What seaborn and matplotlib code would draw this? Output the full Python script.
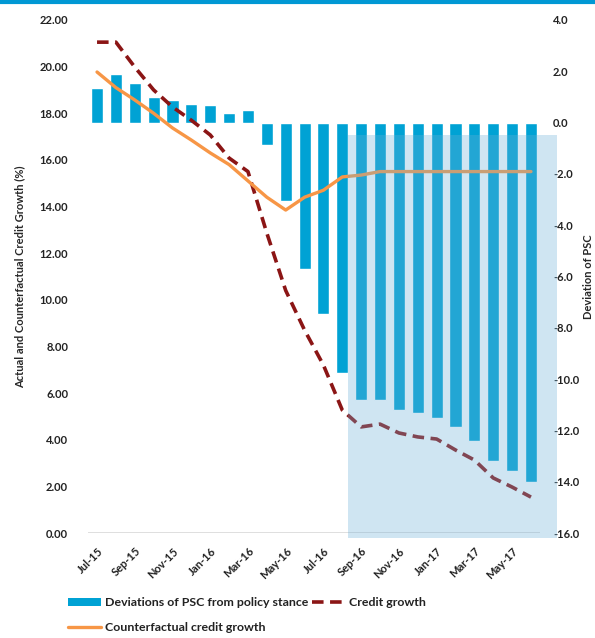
import matplotlib
matplotlib.use("Agg")
import matplotlib.pyplot as plt
import seaborn as sns
import pandas as pd
import numpy as np
from matplotlib.patches import Rectangle
from matplotlib.lines import Line2D
from matplotlib.patches import Patch

months = ["Jul-15", "Aug-15", "Sep-15", "Oct-15", "Nov-15", "Dec-15",
          "Jan-16", "Feb-16", "Mar-16", "Apr-16", "May-16", "Jun-16",
          "Jul-16", "Aug-16", "Sep-16", "Oct-16", "Nov-16", "Dec-16",
          "Jan-17", "Feb-17", "Mar-17", "Apr-17", "May-17", "Jun-17"]
deviation = [1.33, 1.9, 1.55, 1.0, 0.9, 0.74, 0.7, 0.38, 0.5, -0.86, -3.05, -5.7,
             -7.46, -9.76, -10.82, -10.82, -11.2, -11.33, -11.5, -11.88, -12.4,
             -13.2, -13.57, -14.0]
credit_growth = [21.05, 21.05, 19.98, 19.0, 18.27, 17.7, 17.07, 16.08, 15.5, 12.86,
                 10.4, 8.7, 7.2, 5.27, 4.55, 4.67, 4.29, 4.12, 4.03, 3.56, 3.13,
                 2.36, 1.97, 1.54]
counterfactual = [19.77, 19.1, 18.57, 18.0, 17.37, 16.85, 16.3, 15.8, 15.1, 14.4,
                  13.85, 14.4, 14.7, 15.27, 15.35, 15.5, 15.5, 15.5, 15.5, 15.5,
                  15.5, 15.5, 15.5, 15.5]
shade_from = "Aug-16"

sns.set_style("white")
plt.rcParams['font.family'] = ['Lato', 'DejaVu Sans']

df = pd.DataFrame({"month": months, "pos": np.arange(len(months)),
                   "dev": deviation, "credit": credit_growth, "cf": counterfactual})

BAR = "#00a2d4"
RED = "#8b1515"
ORANGE = "#f79646"

fig = plt.figure(figsize=(5.95, 6.38), dpi=100)
ax = fig.add_axes([87.6 / 595, 105 / 638, 452.8 / 595, 513 / 638])
sns.barplot(data=df, x="pos", y="dev", color=BAR, width=0.64, ax=ax,
            saturation=1)
ax.set_ylim(-16, 4)
ax.set_xlim(-0.5, 23.5)

axl = ax.twinx()
sns.lineplot(data=df, x="pos", y="credit", color=RED, lw=2.6, ax=axl)
axl.lines[-1].set_dashes([3.2, 1.8])
sns.lineplot(data=df, x="pos", y="cf", color=ORANGE, lw=2.4, ax=axl)
axl.set_ylim(0, 22)
axl.set_xlim(-0.5, 23.5)

# swap sides: bars' scale on right, lines' scale on left
ax.yaxis.tick_right()
ax.yaxis.set_label_position("right")
axl.yaxis.tick_left()
axl.yaxis.set_label_position("left")

tick_font = dict(fontsize=8, fontweight="bold", color="#222222")
ax.set_yticks(np.arange(-16, 4.1, 2))
ax.set_yticklabels([f"{v:.1f}" for v in np.arange(-16, 4.1, 2)], **tick_font)
axl.set_yticks(np.arange(0, 22.1, 2))
axl.set_yticklabels([f"{v:.2f}" for v in np.arange(0, 22.1, 2)], **tick_font)
ax.tick_params(axis="y", length=0, pad=9)
axl.tick_params(axis="y", length=0, pad=14)

ax.set_xticks(np.arange(0, 24, 2))
ax.set_xticklabels(months[::2], rotation=45, ha="right", rotation_mode="anchor",
                   **tick_font)
ax.tick_params(axis="x", length=0, pad=9)
axl.tick_params(axis="x", length=0, labelbottom=False)

ax.set_xlabel("")
axl.set_xlabel("")
ax.set_ylabel("Deviation of PSC", fontsize=8, fontweight="bold", labelpad=3,
              rotation=90)
axl.set_ylabel("Actual and Counterfactual Credit Growth (%)", fontsize=8,
               fontweight="bold", labelpad=10)

for a in (ax, axl):
    for s in a.spines.values():
        s.set_visible(False)
axl.axhline(0, color="#d9d9d9", lw=1.2, zorder=0)

# shaded region on top of everything
i0 = months.index(shade_from) + 0.32
rect = Rectangle((i0, -16.2), 24.38 - i0, 15.7, transform=ax.transData,
                 facecolor="#6cafd7", alpha=0.32, edgecolor="none",
                 clip_on=False, zorder=10)
axl.add_patch(rect)
rect.set_transform(ax.transData)

# top border line
fig.add_artist(Line2D([0, 1], [0.997, 0.997], transform=fig.transFigure,
                      color="#0098d4", lw=3))

handles = [Patch(facecolor=BAR, edgecolor="none"),
           Line2D([], [], color=ORANGE, lw=2.4),
           Line2D([], [], color=RED, lw=2.6, dashes=[3.2, 1.8])]
labels = ["Deviations of PSC from policy stance", "Counterfactual credit growth",
          "Credit growth"]
fig.legend(handles, labels, ncol=2, loc="upper left",
           bbox_to_anchor=(68 / 595, 1 - 597 / 638), frameon=False,
           prop=dict(size=8.9, weight="bold"), handlelength=2.7,
           handleheight=0.6,
           handletextpad=0.3, columnspacing=0.3, labelspacing=1.15,
           borderaxespad=0, borderpad=0, labelcolor="#222222")

fig.savefig("out.png", dpi=100)
